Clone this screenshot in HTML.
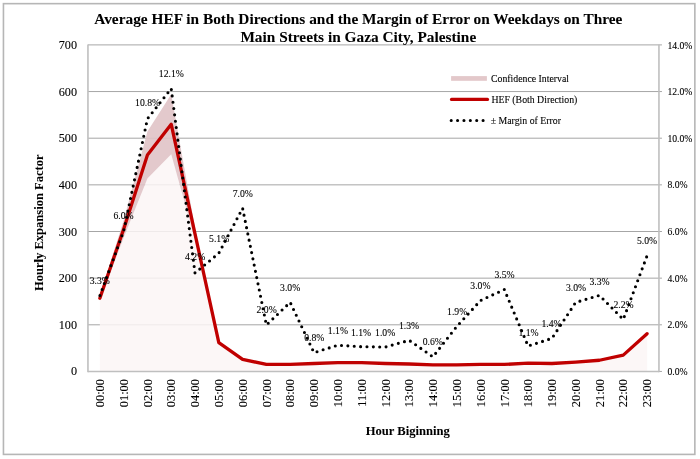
<!DOCTYPE html><html><head><meta charset="utf-8"><style>html,body{margin:0;padding:0;background:#fff;width:700px;height:459px;overflow:hidden}svg{display:block;will-change:transform}#w{width:700px;height:459px}text{font-family:"Liberation Serif",serif;fill:#000;stroke:#000;stroke-width:0.1px}text[font-weight=bold]{stroke-width:0.05px}</style></head><body><div id="w">
<svg width="700" height="459" viewBox="0 0 700 459">
<rect x="0" y="0" width="700" height="459" fill="#fff"/>
<rect x="3.45" y="3.65" width="691.4" height="450.75" fill="none" stroke="#b6b6b6" stroke-width="1.6"/>
<line x1="87.95" y1="324.8" x2="661.95" y2="324.8" stroke="#a6a6a6" stroke-width="1"/>
<line x1="87.95" y1="278.15" x2="661.95" y2="278.15" stroke="#a6a6a6" stroke-width="1"/>
<line x1="87.95" y1="231.5" x2="661.95" y2="231.5" stroke="#a6a6a6" stroke-width="1"/>
<line x1="87.95" y1="184.85" x2="661.95" y2="184.85" stroke="#a6a6a6" stroke-width="1"/>
<line x1="87.95" y1="138.2" x2="661.95" y2="138.2" stroke="#a6a6a6" stroke-width="1"/>
<line x1="87.95" y1="91.55" x2="661.95" y2="91.55" stroke="#a6a6a6" stroke-width="1"/>
<line x1="87.95" y1="44.9" x2="661.95" y2="44.9" stroke="#a6a6a6" stroke-width="1"/>
<line x1="658.95" y1="371.45" x2="661.95" y2="371.45" stroke="#a6a6a6" stroke-width="1"/>
<polygon points="99.85,371.45 99.85,300.58 123.64,237.73 147.43,178.44 171.22,154.19 195.01,239.64 218.8,343.99 242.6,360.17 266.39,364.59 290.18,364.66 313.97,363.58 337.76,362.69 361.55,362.68 385.35,363.6 409.14,364.09 432.93,364.96 456.72,365.04 480.51,364.67 504.3,364.7 528.1,363.14 551.89,363.63 575.68,362.4 599.47,360.62 623.26,355.49 647.05,335.54 647.05,371.45" fill="#fcf6f6" fill-opacity="0.85"/>
<polygon points="99.85,295.83 123.64,220.61 147.43,131.55 171.22,94.22 195.01,228.03 218.8,341.06 242.6,358.47 266.39,364.31 290.18,364.25 313.97,363.46 337.76,362.49 361.55,362.49 385.35,363.44 409.14,363.89 432.93,364.88 456.72,364.79 480.51,364.24 504.3,364.21 528.1,362.96 551.89,363.41 575.68,361.84 599.47,359.89 623.26,354.76 647.05,331.79 647.05,335.54 623.26,355.49 599.47,360.62 575.68,362.4 551.89,363.63 528.1,363.14 504.3,364.7 480.51,364.67 456.72,365.04 432.93,364.96 409.14,364.09 385.35,363.6 361.55,362.68 337.76,362.69 313.97,363.58 290.18,364.66 266.39,364.59 242.6,360.17 218.8,343.99 195.01,239.64 171.22,154.19 147.43,178.44 123.64,237.73 99.85,300.58" fill="#e0c3c6" fill-opacity="0.9"/>
<line x1="87.95" y1="44.4" x2="87.95" y2="372.25" stroke="#bfbfbf" stroke-width="1.6"/>
<line x1="658.95" y1="44.4" x2="658.95" y2="372.25" stroke="#bfbfbf" stroke-width="1.6"/>
<line x1="87.95" y1="371.45" x2="658.95" y2="371.45" stroke="#bfbfbf" stroke-width="1.6"/>
<polyline points="99.85,298.21 123.64,229.17 147.43,154.99 171.22,124.2 195.01,233.83 218.8,342.53 242.6,359.32 266.39,364.45 290.18,364.45 313.97,363.52 337.76,362.59 361.55,362.59 385.35,363.52 409.14,363.99 432.93,364.92 456.72,364.92 480.51,364.45 504.3,364.45 528.1,363.05 551.89,363.52 575.68,362.12 599.47,360.25 623.26,355.12 647.05,333.66" fill="none" stroke="#c00000" stroke-width="3.3" stroke-linejoin="round" stroke-linecap="round"/>
<polyline points="99.85,295.81 123.64,231.15 147.43,118.82 171.22,88.56 195.01,273.04 218.8,253.24 242.6,208.2 266.39,325.03 290.18,302.31 313.97,352.63 337.76,345.26 361.55,346.7 385.35,347.03 409.14,340.31 432.93,356.8 456.72,326.53 480.51,300.5 504.3,289.53 528.1,346.03 551.89,338.35 575.68,302.41 599.47,295.36 623.26,319.46 647.05,255.76" fill="none" stroke="#000" stroke-width="3.1" stroke-linecap="round" stroke-linejoin="round" stroke-dasharray="0 6.371" stroke-dashoffset="-0.274"/>
<text class="yl" x="77" y="371.45" font-size="12.2" text-anchor="end" dominant-baseline="central">0</text>
<text class="yl" x="77" y="324.8" font-size="12.2" text-anchor="end" dominant-baseline="central">100</text>
<text class="yl" x="77" y="278.15" font-size="12.2" text-anchor="end" dominant-baseline="central">200</text>
<text class="yl" x="77" y="231.5" font-size="12.2" text-anchor="end" dominant-baseline="central">300</text>
<text class="yl" x="77" y="184.85" font-size="12.2" text-anchor="end" dominant-baseline="central">400</text>
<text class="yl" x="77" y="138.2" font-size="12.2" text-anchor="end" dominant-baseline="central">500</text>
<text class="yl" x="77" y="91.55" font-size="12.2" text-anchor="end" dominant-baseline="central">600</text>
<text class="yl" x="77" y="44.9" font-size="12.2" text-anchor="end" dominant-baseline="central">700</text>
<text class="yr" x="667.4" y="371.55" font-size="9.7" dominant-baseline="central">0.0%</text>
<text class="yr" x="667.4" y="324.9" font-size="9.7" dominant-baseline="central">2.0%</text>
<text class="yr" x="667.4" y="278.25" font-size="9.7" dominant-baseline="central">4.0%</text>
<text class="yr" x="667.4" y="231.6" font-size="9.7" dominant-baseline="central">6.0%</text>
<text class="yr" x="667.4" y="184.95" font-size="9.7" dominant-baseline="central">8.0%</text>
<text class="yr" x="667.4" y="138.3" font-size="9.7" dominant-baseline="central">10.0%</text>
<text class="yr" x="667.4" y="91.65" font-size="9.7" dominant-baseline="central">12.0%</text>
<text class="yr" x="667.4" y="45" font-size="9.7" dominant-baseline="central">14.0%</text>
<text class="xl" transform="translate(100.05,379.0) rotate(-90)" font-size="12.4" text-anchor="end" dominant-baseline="central">00:00</text>
<text class="xl" transform="translate(123.84,379.0) rotate(-90)" font-size="12.4" text-anchor="end" dominant-baseline="central">01:00</text>
<text class="xl" transform="translate(147.63,379.0) rotate(-90)" font-size="12.4" text-anchor="end" dominant-baseline="central">02:00</text>
<text class="xl" transform="translate(171.42,379.0) rotate(-90)" font-size="12.4" text-anchor="end" dominant-baseline="central">03:00</text>
<text class="xl" transform="translate(195.21,379.0) rotate(-90)" font-size="12.4" text-anchor="end" dominant-baseline="central">04:00</text>
<text class="xl" transform="translate(219,379.0) rotate(-90)" font-size="12.4" text-anchor="end" dominant-baseline="central">05:00</text>
<text class="xl" transform="translate(242.8,379.0) rotate(-90)" font-size="12.4" text-anchor="end" dominant-baseline="central">06:00</text>
<text class="xl" transform="translate(266.59,379.0) rotate(-90)" font-size="12.4" text-anchor="end" dominant-baseline="central">07:00</text>
<text class="xl" transform="translate(290.38,379.0) rotate(-90)" font-size="12.4" text-anchor="end" dominant-baseline="central">08:00</text>
<text class="xl" transform="translate(314.17,379.0) rotate(-90)" font-size="12.4" text-anchor="end" dominant-baseline="central">09:00</text>
<text class="xl" transform="translate(337.96,379.0) rotate(-90)" font-size="12.4" text-anchor="end" dominant-baseline="central">10:00</text>
<text class="xl" transform="translate(361.75,379.0) rotate(-90)" font-size="12.4" text-anchor="end" dominant-baseline="central">11:00</text>
<text class="xl" transform="translate(385.55,379.0) rotate(-90)" font-size="12.4" text-anchor="end" dominant-baseline="central">12:00</text>
<text class="xl" transform="translate(409.34,379.0) rotate(-90)" font-size="12.4" text-anchor="end" dominant-baseline="central">13:00</text>
<text class="xl" transform="translate(433.13,379.0) rotate(-90)" font-size="12.4" text-anchor="end" dominant-baseline="central">14:00</text>
<text class="xl" transform="translate(456.92,379.0) rotate(-90)" font-size="12.4" text-anchor="end" dominant-baseline="central">15:00</text>
<text class="xl" transform="translate(480.71,379.0) rotate(-90)" font-size="12.4" text-anchor="end" dominant-baseline="central">16:00</text>
<text class="xl" transform="translate(504.5,379.0) rotate(-90)" font-size="12.4" text-anchor="end" dominant-baseline="central">17:00</text>
<text class="xl" transform="translate(528.3,379.0) rotate(-90)" font-size="12.4" text-anchor="end" dominant-baseline="central">18:00</text>
<text class="xl" transform="translate(552.09,379.0) rotate(-90)" font-size="12.4" text-anchor="end" dominant-baseline="central">19:00</text>
<text class="xl" transform="translate(575.88,379.0) rotate(-90)" font-size="12.4" text-anchor="end" dominant-baseline="central">20:00</text>
<text class="xl" transform="translate(599.67,379.0) rotate(-90)" font-size="12.4" text-anchor="end" dominant-baseline="central">21:00</text>
<text class="xl" transform="translate(623.46,379.0) rotate(-90)" font-size="12.4" text-anchor="end" dominant-baseline="central">22:00</text>
<text class="xl" transform="translate(647.25,379.0) rotate(-90)" font-size="12.4" text-anchor="end" dominant-baseline="central">23:00</text>
<text class="dl" x="99.8" y="280.1" font-size="9.7" text-anchor="middle" dominant-baseline="central">3.3%</text>
<text class="dl" x="123.6" y="215.7" font-size="9.7" text-anchor="middle" dominant-baseline="central">6.0%</text>
<text class="dl" x="147.6" y="102.9" font-size="9.7" text-anchor="middle" dominant-baseline="central">10.8%</text>
<text class="dl" x="171.3" y="73.3" font-size="9.7" text-anchor="middle" dominant-baseline="central">12.1%</text>
<text class="dl" x="195.2" y="256.7" font-size="9.7" text-anchor="middle" dominant-baseline="central">4.2%</text>
<text class="dl" x="219.2" y="238.8" font-size="9.7" text-anchor="middle" dominant-baseline="central">5.1%</text>
<text class="dl" x="242.8" y="193.1" font-size="9.7" text-anchor="middle" dominant-baseline="central">7.0%</text>
<text class="dl" x="266.7" y="309.5" font-size="9.7" text-anchor="middle" dominant-baseline="central">2.0%</text>
<text class="dl" x="290.2" y="287.7" font-size="9.7" text-anchor="middle" dominant-baseline="central">3.0%</text>
<text class="dl" x="314.3" y="337.5" font-size="9.7" text-anchor="middle" dominant-baseline="central">0.8%</text>
<text class="dl" x="337.9" y="330.8" font-size="9.7" text-anchor="middle" dominant-baseline="central">1.1%</text>
<text class="dl" x="361.1" y="332.1" font-size="9.7" text-anchor="middle" dominant-baseline="central">1.1%</text>
<text class="dl" x="385.2" y="332.1" font-size="9.7" text-anchor="middle" dominant-baseline="central">1.0%</text>
<text class="dl" x="409" y="325.1" font-size="9.7" text-anchor="middle" dominant-baseline="central">1.3%</text>
<text class="dl" x="432.8" y="341.4" font-size="9.7" text-anchor="middle" dominant-baseline="central">0.6%</text>
<text class="dl" x="457.2" y="311.8" font-size="9.7" text-anchor="middle" dominant-baseline="central">1.9%</text>
<text class="dl" x="480.4" y="285.8" font-size="9.7" text-anchor="middle" dominant-baseline="central">3.0%</text>
<text class="dl" x="504.5" y="274.6" font-size="9.7" text-anchor="middle" dominant-baseline="central">3.5%</text>
<text class="dl" x="528.5" y="332.4" font-size="9.7" text-anchor="middle" dominant-baseline="central">1.1%</text>
<text class="dl" x="551.5" y="323.5" font-size="9.7" text-anchor="middle" dominant-baseline="central">1.4%</text>
<text class="dl" x="576" y="287.1" font-size="9.7" text-anchor="middle" dominant-baseline="central">3.0%</text>
<text class="dl" x="599.5" y="281.1" font-size="9.7" text-anchor="middle" dominant-baseline="central">3.3%</text>
<text class="dl" x="623.5" y="304.5" font-size="9.7" text-anchor="middle" dominant-baseline="central">2.2%</text>
<text class="dl" x="647" y="240.7" font-size="9.7" text-anchor="middle" dominant-baseline="central">5.0%</text>
<text class="tt" x="358.3" y="23.6" font-size="15.35" font-weight="bold" text-anchor="middle">Average HEF in Both Directions and the Margin of Error on Weekdays on Three</text>
<text class="tt" x="358.3" y="41.5" font-size="15.35" font-weight="bold" text-anchor="middle">Main Streets in Gaza City, Palestine</text>
<text class="at" x="407.7" y="434.9" font-size="12.6" font-weight="bold" text-anchor="middle">Hour Biginning</text>
<text class="at" transform="translate(42.6,222.7) rotate(-90)" font-size="12.56" font-weight="bold" text-anchor="middle">Hourly Expansion Factor</text>
<rect x="451.1" y="76.1" width="35.8" height="4.7" fill="#e3c8ca"/>
<text class="lg" x="491" y="81.9" font-size="9.8">Confidence Interval</text>
<line x1="451.5" y1="99.4" x2="487.5" y2="99.4" stroke="#c00000" stroke-width="3.2" stroke-linecap="round"/>
<text class="lg" x="491.4" y="103.3" font-size="9.8">HEF (Both Direction)</text>
<line x1="451.2" y1="120.5" x2="483.2" y2="120.5" stroke="#000" stroke-width="3.1" stroke-linecap="round" stroke-dasharray="0 6.38"/>
<text class="lg" x="490.7" y="123.6" font-size="9.8">± Margin of Error</text>
</svg></div></body></html>
